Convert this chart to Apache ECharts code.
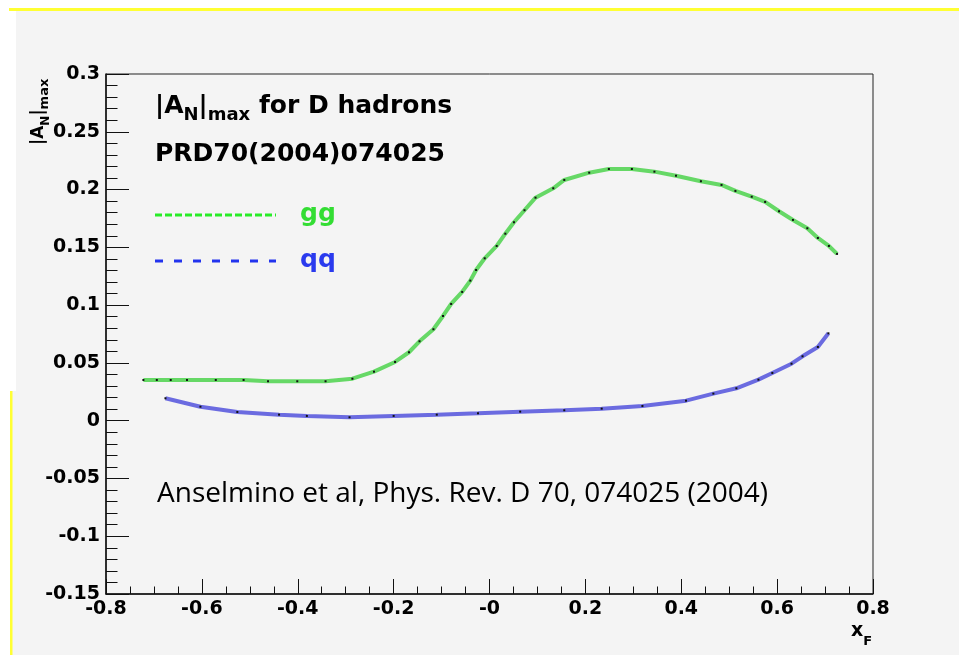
<!DOCTYPE html>
<html>
<head>
<meta charset="utf-8">
<script src="https://cdn.jsdelivr.net/npm/echarts@6/dist/echarts.min.js"></script>
<style>
  html, body { margin: 0; padding: 0; background: #ffffff; }
  #chart { width: 959px; height: 655px; }
</style>
</head>
<body>
<div id="chart"></div>
<script>
// gg channel: |A_N|max versus x_F
const ggX = [-0.722, -0.694, -0.665, -0.631, -0.571, -0.513, -0.462, -0.401, -0.342, -0.286,
  -0.241, -0.197, -0.168, -0.146, -0.117, -0.097, -0.080, -0.057, -0.040, -0.028,
  -0.010, 0.015, 0.033, 0.051, 0.073, 0.096, 0.133, 0.156, 0.208, 0.249,
  0.297, 0.344, 0.389, 0.441, 0.484, 0.513, 0.547, 0.575, 0.604, 0.633,
  0.663, 0.685, 0.708, 0.725];
const ggY = [0.0352, 0.0352, 0.0352, 0.0352, 0.0352, 0.0352, 0.0341, 0.0341, 0.0341, 0.0363,
  0.0424, 0.0508, 0.0592, 0.0687, 0.0791, 0.0906, 0.1010, 0.1114, 0.1212, 0.1304,
  0.1405, 0.1512, 0.1618, 0.1717, 0.1821, 0.1930, 0.2011, 0.2083, 0.2146, 0.2178,
  0.2178, 0.2155, 0.2120, 0.2072, 0.2040, 0.1988, 0.1938, 0.1893, 0.1812, 0.1737,
  0.1665, 0.1581, 0.1512, 0.1443];

// qq channel
const qqX = [-0.676, -0.603, -0.526, -0.439, -0.381, -0.292, -0.200, -0.110, -0.024, 0.064,
  0.156, 0.234, 0.319, 0.410, 0.467, 0.515, 0.561, 0.590, 0.630, 0.653,
  0.685, 0.707];
const qqY = [0.0194, 0.0121, 0.0075, 0.0052, 0.0041, 0.0029, 0.0041, 0.0052, 0.0064, 0.0078,
  0.0090, 0.0104, 0.0127, 0.0173, 0.0234, 0.0280, 0.0355, 0.0413, 0.0493, 0.0557,
  0.0638, 0.0756];

// axis tick labels
const xTickLabels = ['-0.8', '-0.6', '-0.4', '-0.2', '-0', '0.2', '0.4', '0.6', '0.8'];
const yTickLabels = ['-0.15', '-0.1', '-0.05', '0', '0.05', '0.1', '0.15', '0.2', '0.25', '0.3'];

const X_MIN = -0.8, X_MAX = 0.8, X_STEP = 0.2;
const Y_MIN = -0.15, Y_MAX = 0.3, Y_STEP = 0.05;

const BOLD = 'DejaVu Sans';
const measureCtx = document.createElement('canvas').getContext('2d');
function textWidth(t, size, weight, family) {
  measureCtx.font = weight + ' ' + size + 'px "' + family + '"';
  return measureCtx.measureText(t).width;
}

// Lay out a run of text pieces (with sub-scripts) along a baseline at y = 0.
function textRun(pieces, fill) {
  let x = 0;
  const out = [];
  pieces.forEach(p => {
    out.push({
      type: 'text',
      x: x,
      y: (p.dy || 0) - 0.36 * p.size,
      style: {
        text: p.t,
        fill: fill,
        font: 'bold ' + p.size + 'px "' + BOLD + '"',
        align: 'left',
        verticalAlign: 'middle'
      }
    });
    x += textWidth(p.t, p.size, 'bold', BOLD);
  });
  return out;
}

const chart = echarts.init(document.getElementById('chart'), null, { renderer: 'canvas' });

const graphic = [
  // page backdrop
  { type: 'rect', z: -20, shape: { x: 16, y: 11, width: 959 - 16, height: 655 - 11 }, style: { fill: '#f4f4f4' } },
  { type: 'rect', z: -20, shape: { x: 12, y: 391, width: 10, height: 655 - 391 }, style: { fill: '#f4f4f4' } },
  { type: 'rect', z: -19, shape: { x: 9, y: 8, width: 959 - 9, height: 3 }, style: { fill: '#ffff33' } },
  { type: 'rect', z: -19, shape: { x: 10, y: 391, width: 2.5, height: 655 - 391 }, style: { fill: '#ffff33' } },

  // title lines inside the frame
  { type: 'group', x: 155, y: 115, children: textRun([
      { t: '|A', size: 25 }, { t: 'N', size: 18, dy: 7 }, { t: '|', size: 25 },
      { t: 'max', size: 18, dy: 7 }, { t: ' for D hadrons', size: 25 }
    ], '#000') },
  { type: 'group', x: 155, y: 163, children: textRun([{ t: 'PRD70(2004)074025', size: 25 }], '#000') },

  // legend
  { type: 'line', shape: { x1: 155, y1: 215, x2: 276, y2: 215 },
    style: { stroke: '#28ec28', lineWidth: 3, lineDash: [7, 3] } },
  { type: 'group', x: 300, y: 223, children: textRun([{ t: 'gg', size: 25 }], '#33dd33') },
  { type: 'line', shape: { x1: 155, y1: 261, x2: 276, y2: 261 },
    style: { stroke: '#2233ee', lineWidth: 3, lineDash: [8, 11] } },
  { type: 'group', x: 300, y: 269, children: textRun([{ t: 'qq', size: 25 }], '#2a3aee') },

  // reference note
  { type: 'text', x: 157, y: 508, style: {
      text: 'Anselmino et al, Phys. Rev. D 70, 074025 (2004)',
      fill: '#000', font: '28px "Open Sans"', align: 'left', verticalAlign: 'bottom' } },

  // y axis title, reading bottom to top
  { type: 'group', x: 45, y: 145, rotation: Math.PI / 2, children: textRun([
      { t: '|A', size: 17 }, { t: 'N', size: 12, dy: 5 }, { t: '|', size: 17 }, { t: 'max', size: 13, dy: 4 }
    ], '#000') },

  // x axis title
  { type: 'group', x: 851, y: 638, children: textRun([
      { t: 'x', size: 19 }, { t: 'F', size: 13, dy: 8 }
    ], '#000') }
];

function seriesData(xs, ys) { return xs.map((x, i) => [x, ys[i]]); }

chart.setOption({
  animation: false,
  backgroundColor: '#ffffff',
  grid: { left: 106, top: 74, right: 86, bottom: 61, show: true, borderColor: '#222', borderWidth: 1, backgroundColor: 'transparent' },
  xAxis: {
    type: 'value', min: X_MIN, max: X_MAX, interval: X_STEP,
    axisLine: { show: true, onZero: false, lineStyle: { color: '#111', width: 1.5 } },
    axisTick: { show: true, inside: true, length: 15, lineStyle: { color: '#111', width: 1 } },
    minorTick: { show: true, splitNumber: 4, length: 7.5, lineStyle: { color: '#111', width: 1 } },
    splitLine: { show: false },
    axisLabel: {
      margin: 6, color: '#000', fontFamily: BOLD, fontWeight: 'bold', fontSize: 19,
      formatter: v => xTickLabels[Math.round((v - X_MIN) / X_STEP)]
    }
  },
  yAxis: {
    type: 'value', min: Y_MIN, max: Y_MAX, interval: Y_STEP,
    axisLine: { show: true, onZero: false, lineStyle: { color: '#111', width: 1.5 } },
    axisTick: { show: true, inside: true, length: 23, lineStyle: { color: '#111', width: 1 } },
    minorTick: { show: true, splitNumber: 5, length: 11.5, lineStyle: { color: '#111', width: 1 } },
    splitLine: { show: false },
    axisLabel: {
      margin: 6, color: '#000', fontFamily: BOLD, fontWeight: 'bold', fontSize: 19,
      formatter: v => yTickLabels[Math.round((v - Y_MIN) / Y_STEP)]
    }
  },
  graphic: graphic,
  series: [
    {
      name: 'gg', type: 'line', data: seriesData(ggX, ggY), z: 3,
      showSymbol: true, showAllSymbol: true, symbol: 'rect', symbolSize: 2,
      itemStyle: { color: '#111' }, lineStyle: { color: '#66d866', width: 4 },
      emphasis: { disabled: true }, silent: true
    },
    {
      name: 'qq', type: 'line', data: seriesData(qqX, qqY), z: 3,
      showSymbol: true, showAllSymbol: true, symbol: 'rect', symbolSize: 2,
      itemStyle: { color: '#111' }, lineStyle: { color: '#6b6be0', width: 4 },
      emphasis: { disabled: true }, silent: true
    }
  ]
});
</script>
</body>
</html>
